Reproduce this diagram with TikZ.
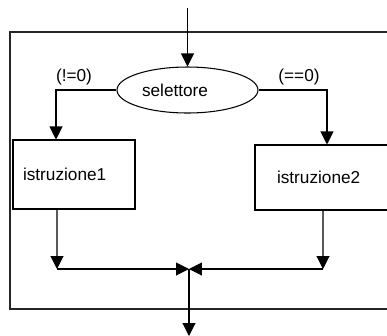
\documentclass[tikz,border=0pt]{standalone}
\usepackage{fontspec}
\setmainfont{Liberation Sans}
\usetikzlibrary{arrows.meta,shapes.geometric}
\tikzset{
	arr/.style={-{Triangle[length=0.26cm,width=0.26cm]}},
	istr/.style={draw,rectangle,align=left,inner ysep=0pt},
	cond/.style={inner sep=0pt},
}
\begin{document}
\begin{tikzpicture}[x=0.02cm,y=-0.02cm,line width=0.6pt,font=\fontsize{9.8pt}{12pt}\selectfont]
				\useasboundingbox (0,0) rectangle (387,336);
				\clip (0,0) rectangle (387,336);
				\draw[black!85,line width=0.7pt] (10,32) rectangle (400,309);
				\node[draw,ellipse,minimum width=2.82cm,minimum height=0.92cm,text width=1.82cm,align=left,inner sep=0pt] (sel) at (187.5,90) {selettore};
				\node[istr,text width=2.04cm,inner xsep=0.2cm,minimum height=1.38cm] (box1) at (74,174.5) {istruzione1};
				\node[istr,text width=1.92cm,inner xsep=0.44cm,minimum height=1.3cm] (box2) at (325,177.5) {istruzione2};
				\node[cond] (neq) at (74,77.5) {(!=0)};
				\node[cond] (eq) at (299,77.5) {(==0)};
				\coordinate (in) at (187.5,8);
				\coordinate (l1) at (57,269);
				\coordinate (r1) at (323,269);
				\coordinate (m) at (189,269);
				\coordinate (out) at (189,336);
				\draw[arr] (in) -- (sel);
				\draw[arr] (sel.west) -| ([xshift=-0.36cm]box1.north);
				\draw[arr] (sel.east) -| ([xshift=0.04cm]box2.north);
				\draw[arr] ([xshift=-0.34cm]box1.south) -- (l1);
				\draw[arr] ([xshift=-0.04cm]box2.south) -- (r1);
				\draw[arr] (l1) -- (m);
				\draw[arr] (r1) -- (m);
				\draw[arr] (m) -- (out);
			\end{tikzpicture}
\end{document}
